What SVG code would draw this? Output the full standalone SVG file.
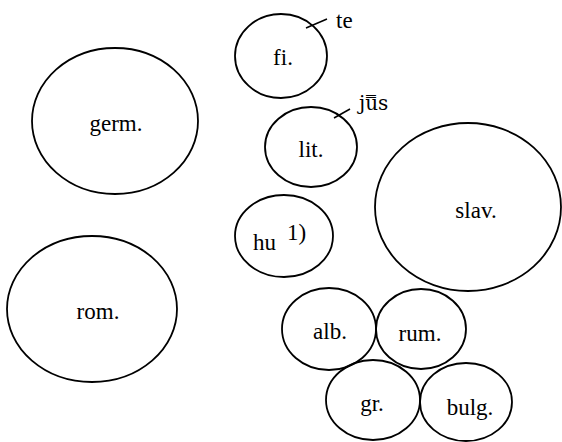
<svg xmlns="http://www.w3.org/2000/svg" width="562" height="442" viewBox="0 0 562 442">
<style>
.n{fill:none;stroke:#000;stroke-width:1.8}
.t{font-family:"Liberation Serif","DejaVu Serif",serif;font-size:23px;fill:#000;text-anchor:middle}
.s{font-family:"Liberation Serif","DejaVu Serif",serif;font-size:23px;fill:#000}
.c{stroke:#000;stroke-width:1.5;fill:none}
</style>
<rect width="562" height="442" fill="#fff"/>
<g id="germ"><ellipse class="n" cx="115" cy="121" rx="83" ry="73"/><text class="t" x="116" y="131">germ.</text></g>
<g id="rom"><ellipse class="n" cx="92" cy="309" rx="85" ry="73"/><text class="t" x="98" y="319">rom.</text></g>
<g id="fi"><ellipse class="n" cx="281" cy="56" rx="46" ry="42"/><text class="t" x="283" y="65">fi.</text></g>
<g id="lit"><ellipse class="n" cx="311" cy="147" rx="46" ry="40"/><text class="t" x="311" y="157">lit.</text></g>
<g id="hu"><ellipse class="n" cx="284" cy="236" rx="49" ry="41"/><text class="s" x="253" y="250">hu</text><text class="s" x="287" y="240">1)</text></g>
<g id="slav"><ellipse class="n" cx="468" cy="207" rx="93" ry="84"/><text class="t" x="476" y="218">slav.</text></g>
<g id="alb"><ellipse class="n" cx="329" cy="329" rx="47" ry="41"/><text class="t" x="330" y="339">alb.</text></g>
<g id="rum"><ellipse class="n" cx="421" cy="329" rx="45" ry="40"/><text class="t" x="420" y="341">rum.</text></g>
<g id="gr"><ellipse class="n" cx="373" cy="400" rx="47" ry="40"/><text class="t" x="372" y="411">gr.</text></g>
<g id="bulg"><ellipse class="n" cx="466" cy="402" rx="46" ry="39"/><text class="t" x="470" y="415">bulg.</text></g>
<g id="labels"><text class="s" x="336" y="28">te</text><text x="359" y="110" style="font-family:'DejaVu Serif',serif;font-size:20px">ju̿s</text></g>
<g id="connectors">
<line class="c" x1="306" y1="28" x2="327" y2="19"/>
<line class="c" x1="334" y1="118" x2="350" y2="109"/>
</g>
</svg>
